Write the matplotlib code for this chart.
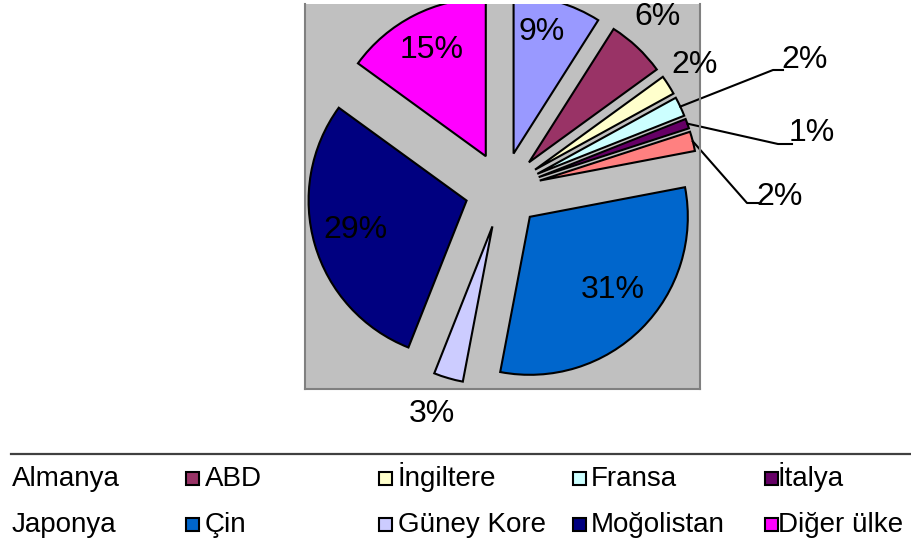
import numpy as np
import matplotlib
matplotlib.use("Agg")
import matplotlib.pyplot as plt
from matplotlib.patches import Rectangle
from matplotlib.lines import Line2D

plt.rcParams['font.family'] = ['Liberation Sans', 'DejaVu Sans']

# ---- data ----
countries = ["Almanya", "ABD", "İngiltere", "Fransa", "İtalya",
             "Japonya", "Çin", "Güney Kore", "Moğolistan", "Diğer ülke"]
shares = [9, 6, 2, 2, 1, 2, 31, 3, 29, 15]
pct_labels = ["9%", "6%", "2%", "2%", "1%", "2%", "31%", "3%", "29%", "15%"]
colors = ["#9999FF", "#993366", "#FFFFCC", "#CCFFFF", "#660066",
          "#FF8080", "#0066CC", "#CCCCFF", "#000080", "#FF00FF"]

# ---- layout ----
W, H = 911, 543
fig = plt.figure(figsize=(W / 100, H / 100), dpi=100)
fig.patch.set_facecolor("white")

scale = 158.0          # pixels per radius unit
cx, cy = 503.0, 190.0  # pie centre in pixels
box_l, box_r, box_t, box_b = 305, 700, 4, 389

ax = fig.add_axes([box_l / W, (H - box_b) / H, (box_r - box_l) / W, (box_b - box_t) / H])
ax.set_facecolor("#C0C0C0")

explode = [0.24] * len(shares)
wedges, _ = ax.pie(shares, colors=colors, startangle=90, counterclock=False,
                   explode=explode, radius=1.0, center=(0, 0), frame=True,
                   wedgeprops=dict(edgecolor="black", linewidth=1.5))
for w in wedges:
    w.set_clip_on(True)
    w.set_clip_path(ax.patch)
ax.set_xlim((box_l - cx) / scale, (box_r - cx) / scale)
ax.set_ylim((cy - box_b) / scale, (cy - box_t) / scale)
ax.set_aspect("auto")
ax.set_xticks([])
ax.set_yticks([])
for s in ["left", "right", "bottom"]:
    ax.spines[s].set_color("#808080")
    ax.spines[s].set_linewidth(1.5)
ax.spines["top"].set_visible(False)

# label positions (pixel coords in the picture)
label_px = [(542, 32), (657, 17), (695, 65), (805, 60), (812, 133),
            (780, 197), (613, 290), (432, 414), (355, 230), (432, 50)]
for txt, (px, py) in zip(pct_labels, label_px):
    ax.text((px - cx) / scale, (cy - py) / scale, txt, fontsize=23,
            ha="center", va="center", color="black", clip_on=False)

# leader lines for small slices (Fransa, İtalya, Japonya)
fracs = np.array(shares) / sum(shares)
starts = 90 - 360 * np.concatenate([[0], np.cumsum(fracs)[:-1]])
mids = starts - 180 * fracs
leader_elbows = {3: [(773, 70), (783, 70)],
                 4: [(778, 144), (792, 144)],
                 5: [(747, 203), (758, 203)]}
for i, pts in leader_elbows.items():
    a = np.deg2rad(mids[i])
    r0 = 1.0 + explode[i]
    xs = [r0 * np.cos(a)] + [(p[0] - cx) / scale for p in pts]
    ys = [r0 * np.sin(a)] + [(cy - p[1]) / scale for p in pts]
    ax.add_line(Line2D(xs, ys, color="black", lw=1.5, clip_on=False))

# ---- legend (manual, clipped at left like the original) ----
fig.add_artist(Line2D([11 / W, 1.0], [(H - 454) / H] * 2, color="#404040",
                      lw=1.6, transform=fig.transFigure))
col_marker_x = [None, 186, 379, 573, 765]
col_text_x = [12, 205, 398, 591, 778]
row_base = [486, 532]
for idx, name in enumerate(countries):
    row = idx // 5
    col = idx % 5
    yb = row_base[row]
    fig.text(col_text_x[col] / W, (H - yb) / H, name, fontsize=20,
             ha="left", va="baseline", color="black")
    if col_marker_x[col] is not None:
        mx = col_marker_x[col]
        fig.add_artist(Rectangle((mx / W, (H - yb + 1) / H), 13 / W, 13 / H,
                                 facecolor=colors[idx], edgecolor="black",
                                 lw=1.5, transform=fig.transFigure))

fig.savefig("out.png", dpi=100)
